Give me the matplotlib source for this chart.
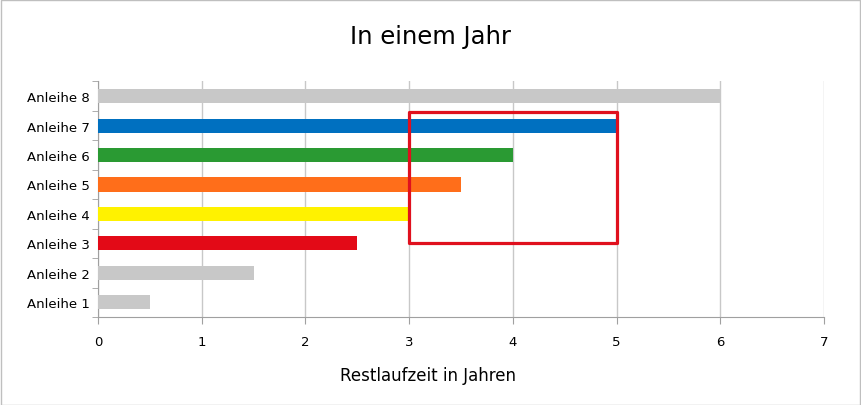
import matplotlib
matplotlib.use("Agg")
import matplotlib.pyplot as plt
from matplotlib.patches import Rectangle
import numpy as np

categories = ["Anleihe 1", "Anleihe 2", "Anleihe 3", "Anleihe 4",
              "Anleihe 5", "Anleihe 6", "Anleihe 7", "Anleihe 8"]
values = [0.5, 1.5, 2.5, 3.0, 3.5, 4.0, 5.0, 6.0]
colors = ["#C8C8C8", "#C8C8C8", "#E30A17", "#FFF200",
          "#FF6E1A", "#2A9A33", "#0070C0", "#C8C8C8"]
xticks = [0, 1, 2, 3, 4, 5, 6, 7]
box_x = (3, 5)
box_y = (2.0, 6.45)

plt.rcParams['font.family'] = ['DejaVu Sans']

fig = plt.figure(figsize=(8.62, 4.06), dpi=100)
fig.patches.append(Rectangle((0.001, 0.001), 0.997, 0.996, transform=fig.transFigure,
                             fill=False, edgecolor="#BFBFBF", linewidth=1))
ax = fig.add_axes([0.1137, 0.2167, 0.8422, 0.5803])

y = np.arange(len(categories))
ax.barh(y, values, height=0.48, color=colors, zorder=3)
ax.set_xlim(0, 7)
ax.set_ylim(-0.5, 7.5)
ax.set_xticks(xticks)
ax.set_xticklabels([str(t) for t in xticks], fontsize=9.5)
ax.set_yticks(y)
ax.set_yticklabels(categories, fontsize=9.5)
ax.set_yticks(np.arange(-0.5, 8.0, 1.0), minor=True)
ax.tick_params(axis='y', which='major', length=0, pad=6)
ax.tick_params(axis='y', which='minor', length=4, color="#A0A0A0", direction='out')
ax.tick_params(axis='x', which='major', length=5, color="#A0A0A0", pad=8)
ax.grid(axis='x', color="#C8C8C8", linewidth=1, zorder=0)
for s in ['top', 'right']:
    ax.spines[s].set_visible(False)
for s in ['left', 'bottom']:
    ax.spines[s].set_color("#A0A0A0")

ax.add_patch(Rectangle((box_x[0], box_y[0]), box_x[1] - box_x[0], box_y[1] - box_y[0],
                       fill=False, edgecolor="#E0101E", linewidth=2.3, joinstyle='round',
                       zorder=5))

fig.text(0.5, 0.91, "In einem Jahr", ha='center', va='center', fontsize=17.5)
fig.text(0.496, 0.075, "Restlaufzeit in Jahren", ha='center', va='center', fontsize=12)

fig.savefig("out.png", dpi=100)
